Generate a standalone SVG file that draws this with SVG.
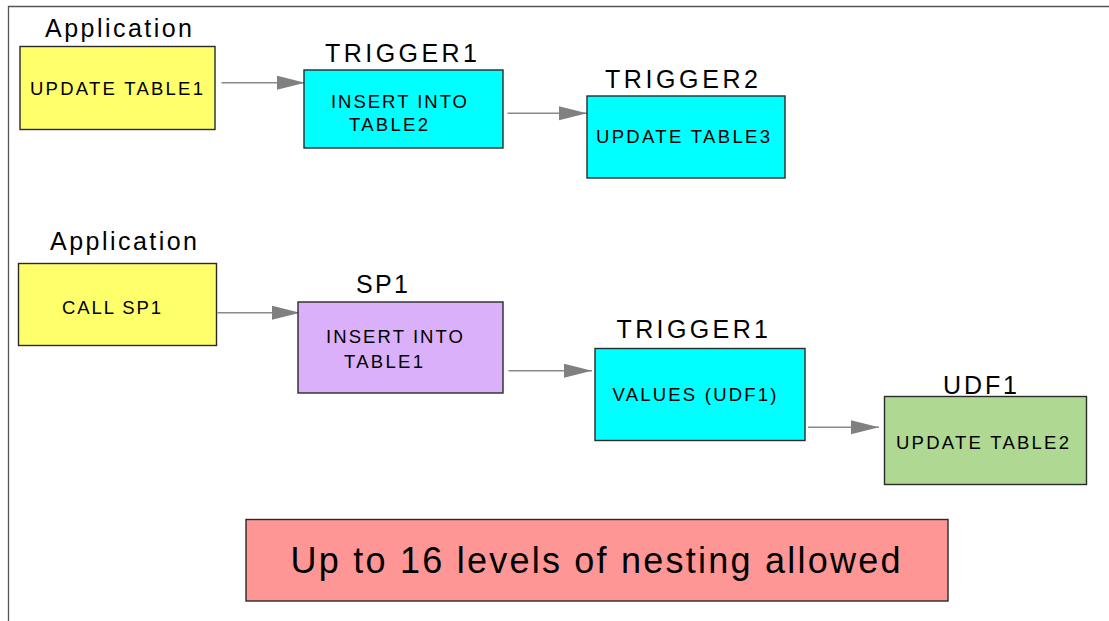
<svg xmlns="http://www.w3.org/2000/svg" width="1109" height="621" viewBox="0 0 1109 621">
  <defs>
    <style>
      .box { stroke: #2a2a2a; stroke-width: 1.4; }
      .app { fill: #ffff6b; }
      .trg { fill: #00ffff; }
      .sp  { fill: #dab0fa; }
      .udf { fill: #afd893; }
      .note { fill: #ff9696; }
      .title { font-family: "Liberation Sans", Arial, sans-serif; font-size: 25px; fill: #000; }
      .body { font-family: "Liberation Sans", Arial, sans-serif; font-size: 18.5px; fill: #000; }
      .big { font-family: "Liberation Sans", Arial, sans-serif; font-size: 36px; fill: #000; }
      .conn { stroke: #8a8a8a; stroke-width: 1.4; fill: none; marker-end: url(#head); }
    </style>
    <marker id="head" markerUnits="userSpaceOnUse" markerWidth="30" markerHeight="16" refX="28" refY="7" orient="auto">
      <path d="M0,0 L28,7 L0,14 Z" fill="#808080"/>
    </marker>
  </defs>

  <rect width="1109" height="621" fill="#ffffff"/>

  <!-- outer frame: top and left edges only -->
  <path d="M8.5,621 L8.5,6.5 L1109,6.5" fill="none" stroke="#555" stroke-width="1.3"/>

  <g id="connectors">
    <line class="conn" x1="221.5" y1="82.7" x2="305" y2="82.7"/>
    <line class="conn" x1="507.5" y1="113.3" x2="587" y2="113.3"/>
    <line class="conn" x1="217.5" y1="312.7" x2="300" y2="312.7"/>
    <line class="conn" x1="508.5" y1="370.7" x2="592" y2="370.7"/>
    <line class="conn" x1="808" y1="427.3" x2="879" y2="427.3"/>
  </g>

  <!-- first chain: application update fires two triggers -->
  <g id="app1">
    <text class="title" x="45" y="36.7" textLength="147" lengthAdjust="spacing">Application</text>
    <rect class="box app" x="20" y="46.5" width="195" height="83"/>
    <text class="body" x="30" y="95" textLength="173" lengthAdjust="spacing">UPDATE TABLE1</text>
  </g>

  <g id="trigger1-top">
    <text class="title" x="325" y="61.7" textLength="152" lengthAdjust="spacing">TRIGGER1</text>
    <rect class="box trg" x="304" y="70" width="199" height="78"/>
    <text class="body" x="331" y="107.7" textLength="136" lengthAdjust="spacing">INSERT INTO</text>
    <text class="body" x="349" y="131" textLength="79" lengthAdjust="spacing">TABLE2</text>
  </g>

  <g id="trigger2">
    <text class="title" x="605" y="88" textLength="153" lengthAdjust="spacing">TRIGGER2</text>
    <rect class="box trg" x="587" y="96" width="198" height="82"/>
    <text class="body" x="596" y="143" textLength="174" lengthAdjust="spacing">UPDATE TABLE3</text>
  </g>

  <!-- second chain: procedure call, trigger, UDF -->
  <g id="app2">
    <text class="title" x="50" y="250" textLength="147" lengthAdjust="spacing">Application</text>
    <rect class="box app" x="18.5" y="263.5" width="198" height="82"/>
    <text class="body" x="62" y="314.3" textLength="99" lengthAdjust="spacing">CALL SP1</text>
  </g>

  <g id="sp1">
    <text class="title" x="356" y="292.7" textLength="52" lengthAdjust="spacing">SP1</text>
    <rect class="box sp" x="298" y="302" width="205" height="91"/>
    <text class="body" x="326" y="343.3" textLength="137" lengthAdjust="spacing">INSERT INTO</text>
    <text class="body" x="344" y="368.3" textLength="79" lengthAdjust="spacing">TABLE1</text>
  </g>

  <g id="trigger1-bottom">
    <text class="title" x="616.5" y="337.7" textLength="151.5" lengthAdjust="spacing">TRIGGER1</text>
    <rect class="box trg" x="595" y="348.5" width="210" height="92"/>
    <text class="body" x="612.5" y="400.7" textLength="164" lengthAdjust="spacing">VALUES (UDF1)</text>
  </g>

  <g id="udf1">
    <text class="title" x="943" y="394" textLength="74" lengthAdjust="spacing">UDF1</text>
    <rect class="box udf" x="884.5" y="396.5" width="202" height="88"/>
    <text class="body" x="896" y="449" textLength="173" lengthAdjust="spacing">UPDATE TABLE2</text>
  </g>

  <g id="note">
    <rect class="box note" x="246" y="519.5" width="702" height="81.5"/>
    <text class="big" x="290.5" y="573.3" textLength="610" lengthAdjust="spacing">Up to 16 levels of nesting allowed</text>
  </g>
</svg>
